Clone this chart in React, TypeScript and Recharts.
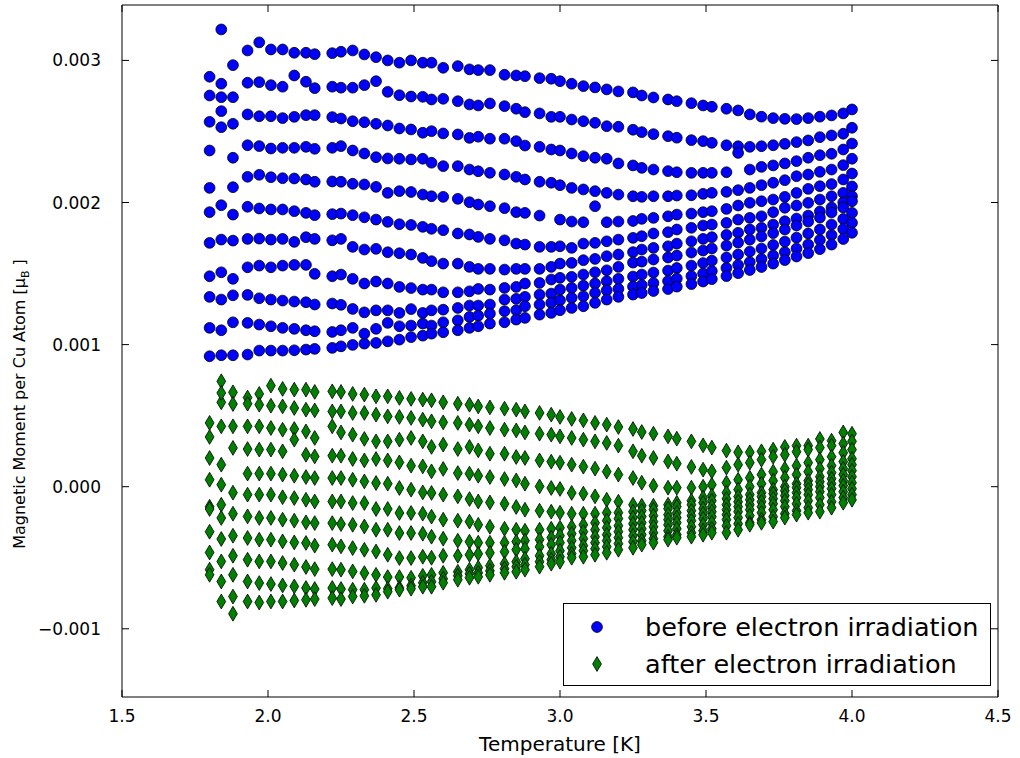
import React from 'react'
import { ScatterChart, Scatter, XAxis, YAxis, ReferenceArea } from 'recharts'

// Sweep temperatures (K), shared by every field row
const temperatures = [
  1.80, 1.84, 1.88, 1.93, 1.97, 2.01, 2.05, 2.09, 2.13, 2.16,
  2.22, 2.25, 2.29, 2.33, 2.37, 2.41, 2.45, 2.49, 2.53, 2.56,
  2.60, 2.65, 2.69, 2.72, 2.76, 2.81, 2.85, 2.88, 2.93, 2.97,
  3.00, 3.04, 3.08, 3.12, 3.16, 3.20, 3.25, 3.28, 3.32, 3.37,
  3.40, 3.45, 3.49, 3.52, 3.57, 3.61, 3.65, 3.69, 3.73, 3.77,
  3.81, 3.85, 3.89, 3.93, 3.97, 4.00,
]

// moments in units of 1e-6 muB per Cu atom, one row per applied field
const beforeRows: (number | null)[][] = [
  [2885, 3218, 2967, 3070, 3127, 3077, 3077, 3054, 3054, 3044, 3051, 3061, 3070, 3042, 3023, 3000, 2984, 3000, 2984, 2984, 2948, 2960, 2937, 2932, 2932, 2899, 2894, 2889, 2875, 2871, 2854, 2836, 2819, 2810, 2796, 2782, 2775, 2753, 2739, 2725, 2713, 2699, 2683, 2674, 2660, 2648, 2620, 2604, 2594, 2589, 2587, 2594, 2604, 2613, 2627, 2655],
  [2753, 2836, 2741, 2843, 2847, 2826, 2815, 2894, 2850, 2805, 2815, 2808, 2808, 2826, 2854, 2779, 2755, 2746, 2744, 2725, 2730, 2713, 2690, 2683, 2697, 2678, 2660, 2636, 2627, 2603, 2603, 2584, 2572, 2561, 2537, 2533, 2512, 2495, 2481, 2467, 2456, 2439, 2432, 2420, 2403, 2396, 2392, 2396, 2403, 2413, 2425, 2437, 2460, 2472, 2484, 2526],
  [2568, 2741, 2554, 2620, 2607, 2607, 2594, 2603, 2615, 2615, 2601, 2591, 2572, 2565, 2554, 2542, 2521, 2514, 2491, 2502, 2486, 2479, 2455, 2463, 2449, 2449, 2432, 2401, 2392, 2373, 2366, 2345, 2326, 2315, 2308, 2275, 2261, 2244, 2232, 2221, 2213, 2209, 2209, 2209, 2213, 2349, 2232, 2251, 2261, 2275, 2291, 2315, 2333, 2343, 2373, 2415],
  [2366, 2643, 2315, 2403, 2397, 2380, 2385, 2385, 2392, 2378, 2385, 2397, 2366, 2345, 2319, 2310, 2308, 2303, 2308, 2280, 2256, 2256, 2232, 2220, 2209, 2197, 2181, 2162, 2146, 2139, 2122, 2103, 2092, 2080, 2068, 2056, 2044, 2040, 2044, 2044, 2049, 2051, 2061, 2068, 2075, 2087, 2103, 2122, 2139, 2157, 2185, 2197, 2216, 2232, 2263, 2308],
  [2103, 2530, 2108, 2181, 2195, 2178, 2171, 2169, 2162, 2146, 2148, 2146, 2132, 2127, 2110, 2068, 2080, 2074, 2056, 2044, 2040, 2026, 2002, 1986, 1974, 1960, 1932, 1927, 1908, null, 1880, 1866, 1861, 1974, 1861, 1866, 1870, 1885, 1892, 1903, 1915, 1922, 1932, 1939, 1955, 1979, 1998, 2009, 2021, 2040, 2068, 2096, 2115, 2130, 2162, 2204],
  [1932, 1981, 1915, 1970, 1958, 1951, 1951, 1939, 1927, 1911, 1918, 1922, 1911, 1896, 1880, 1864, 1847, 1842, 1829, 1815, 1805, 1782, 1775, 1758, 1744, 1734, 1711, 1704, 1688, 1688, 1692, 1681, 1711, 1716, 1727, 1739, 1751, 1763, 1782, 1791, 1810, 1822, 1838, 1845, 1857, 1880, 1892, 1903, 1932, 1963, 1979, 1998, 2021, 2044, 2068, 2113],
  [1716, 1739, 1732, 1744, 1746, 1739, 1744, 1723, 1756, 1744, 1734, 1744, 1688, 1669, 1674, 1650, 1643, 1634, 1610, 1587, 1570, 1570, 1547, 1533, 1533, 1528, 1533, 1533, 1533, 1547, 1570, 1575, 1594, 1603, 1622, 1634, 1651, 1669, 1681, 1692, 1711, 1727, 1744, 1756, 1772, 1787, 1810, 1822, 1845, 1868, 1887, 1908, 1937, 1965, 2000, 2044],
  [1481, 1509, 1463, 1544, 1556, 1544, 1556, 1561, 1561, 1498, 1481, 1493, 1463, 1430, 1444, 1430, 1406, 1398, 1387, 1387, 1368, 1368, 1375, 1392, 1387, 1399, 1406, 1430, 1434, 1458, 1470, 1477, 1493, 1509, 1523, 1547, 1577, 1584, 1599, 1613, 1627, 1648, 1662, 1676, 1697, 1718, 1739, 1761, 1785, 1810, 1838, 1866, 1894, 1930, 1965, 2009],
  [1336, 1317, 1347, 1350, 1326, 1317, 1310, 1303, 1298, 1282, 1289, 1280, 1251, 1227, 1241, 1241, 1223, 1250, 1223, 1241, 1246, 1258, 1275, 1275, 1282, 1317, 1322, 1336, 1352, 1359, 1387, 1399, 1415, 1430, 1446, 1463, 1479, 1493, 1507, 1521, 1539, 1556, 1574, 1591, 1613, 1634, 1655, 1676, 1701, 1725, 1753, 1782, 1810, 1845, 1884, 1927],
  [1118, 1101, 1157, 1153, 1141, 1129, 1118, 1111, 1101, 1094, 1089, 1101, 1118, 1077, 1111, 1153, 1129, 1134, 1148, 1134, 1157, 1171, 1195, 1204, 1218, 1235, 1242, 1270, 1282, 1294, 1312, 1329, 1340, 1364, 1382, 1392, 1408, 1419, 1433, 1447, 1465, 1482, 1500, 1518, 1539, 1560, 1581, 1602, 1627, 1651, 1676, 1704, 1736, 1771, 1813, 1857],
  [918, 925, 925, 930, 958, 958, 958, 960, 965, 970, 977, 988, 998, 1007, 1012, 1023, 1035, 1053, 1063, 1077, 1087, 1101, 1118, 1129, 1148, 1157, 1176, 1188, 1211, 1223, 1242, 1258, 1270, 1294, 1317, 1336, 1352, 1363, 1377, 1391, 1408, 1426, 1444, 1461, 1482, 1503, 1525, 1546, 1570, 1595, 1620, 1644, 1672, 1704, 1743, 1787],
]

const afterRows: (number | null)[][] = [
  [null, 742, 664, 627, 653, 711, 688, 683, 683, 667, 671, 667, 653, 648, 636, 636, 625, 618, 613, 608, 594, 584, 577, 565, 558, 549, 542, 530, 519, 507, 491, 477, 467, 449, 437, 420, 406, 385, 373, 354, 338, 319, 291, 275, 254, 242, 242, 249, 261, 280, 289, 289, 336, 324, 382, 373],
  [449, 594, 582, 584, 577, 570, 565, 554, 542, 537, 530, 530, 519, 519, 507, 495, 491, 484, 472, 460, 453, 449, 437, 425, 413, 401, 396, 382, 373, 366, 354, 343, 331, 319, 308, 289, 249, 218, 202, 178, 162, 139, 120, 108, 134, 155, 169, 190, 211, 225, 246, 261, 275, 289, 303, 319],
  [350, 425, 425, 425, 425, 413, 401, 406, 389, 343, 425, 382, 366, 336, 319, 319, 331, 343, 319, 280, 296, 265, 280, 256, 232, 232, 209, 202, 185, 176, 169, 155, 141, 127, 106, 85, 61, 28, 7, -7, -7, -7, 0, 14, 28, 49, 63, 85, 106, 127, 148, 169, 190, 211, 239, 261],
  [202, 155, 273, 265, 261, 261, 249, 331, 225, 213, 218, 218, 195, 185, 195, 185, 171, 148, 143, 108, 125, 96, 92, 77, 68, 54, 44, 21, 2, -9, -16, -44, -49, -68, -92, -106, -127, -134, -134, -127, -113, -99, -77, -63, -42, -21, 0, 21, 42, 63, 85, 106, 127, 148, 176, 197],
  [49, 14, null, 92, 92, 92, 85, 77, 68, 61, 61, 61, 49, 37, 26, 21, -9, -21, -40, -44, -56, -68, -87, -104, -111, -120, -143, -162, -169, -176, -183, -190, -190, -190, -183, -183, -176, -169, -162, -155, -141, -127, -113, -99, -85, -70, -56, -42, -21, 0, 21, 42, 70, 99, 127, 155],
  [-141, -127, -42, -56, -56, -56, -74, -80, -92, -104, -104, -104, -115, -115, -157, -157, -185, -185, -190, -211, -232, -239, -246, -268, -282, -296, -303, -310, -303, -296, -289, -282, -268, -254, -239, -225, -218, -211, -204, -197, -183, -169, -155, -141, -127, -106, -92, -70, -49, -28, -7, 14, 35, 56, 85, 113],
  [-317, -220, -190, -209, -220, -220, -232, -239, -251, -256, -256, -263, -268, -280, -303, -303, -326, -326, -331, -352, -366, -380, -387, -394, -394, -394, -387, -380, -373, -359, -345, -331, -317, -303, -289, -275, -261, -254, -246, -232, -218, -204, -190, -176, -162, -141, -127, -106, -85, -63, -42, -21, 0, 21, 42, 70],
  [-463, -368, -345, -361, -373, -373, -385, -392, -396, -415, -408, -420, -432, -444, -456, -479, -502, -502, -493, -500, -486, -486, -479, -472, -465, -458, -444, -437, -423, -408, -394, -380, -366, -352, -338, -317, -303, -296, -282, -268, -254, -239, -225, -211, -197, -176, -162, -141, -120, -99, -77, -56, -35, -14, 7, 28],
  [-584, -526, -486, -514, -526, -526, -537, -549, -565, -580, -580, -584, -596, -608, -620, -636, -636, -641, -627, -620, -606, -599, -584, -570, -556, -542, -528, -507, -486, -472, -451, -430, -415, -394, -380, -359, -345, -338, -324, -310, -296, -282, -268, -254, -232, -218, -204, -183, -162, -141, -120, -99, -77, -56, -35, -14],
  [-620, -667, -620, -667, -678, -685, -695, -702, -713, -720, -713, -720, -725, -725, -713, -718, -711, -697, -676, -669, -648, -627, -613, -606, -592, -577, -563, -549, -528, -514, -493, -472, -451, -437, -423, -401, -387, -380, -366, -352, -338, -324, -310, -296, -275, -261, -254, -232, -211, -190, -169, -148, -127, -106, -77, -56],
  [null, -808, -773, -808, -815, -808, -808, -801, -796, -791, -784, -791, -773, -768, -761, -739, -725, -718, -704, -704, -676, -655, -641, -634, -620, -606, -599, -584, -563, -542, -528, -500, -493, -479, -465, -444, -430, -408, -394, -373, -359, -352, -338, -324, -324, -303, -268, -254, -246, -218, -197, -183, -176, -148, -113, -92],
]

// readings that fall off the regular sweep rows: [temperature, moment]
const afterStray: [number, number][] = [
  [1.84, 660],
  [1.80, -157],
  [1.88, -894],
]

const xTicks = [1.5, 2.0, 2.5, 3.0, 3.5, 4.0, 4.5]
const yTicks = [-0.001, 0, 0.001, 0.002, 0.003]
const X_DOMAIN: [number, number] = [1.5, 4.5]
const Y_DOMAIN: [number, number] = [-0.00148, 0.00339]

const UNIT = 1e-6
const BLUE = '#0000ff'
const GREEN = '#008000'
const FONT = '"DejaVu Sans", sans-serif'

// plot frame in page pixels (margins + axis sizes below)
const FRAME = { left: 122, right: 998, top: 5, bottom: 697 }
const TICK_LEN = 7

type Pt = { t: number; m: number }

function toPoints(rows: (number | null)[][], stray: [number, number][] = []): Pt[] {
  const pts: Pt[] = []
  rows.forEach((row) =>
    row.forEach((v, i) => {
      if (v !== null) pts.push({ t: temperatures[i], m: v * UNIT })
    })
  )
  stray.forEach(([t, v]) => pts.push({ t, m: v * UNIT }))
  return pts
}

const beforePoints = toPoints(beforeRows)
const afterPoints = toPoints(afterRows, afterStray)

function Dot(props: any) {
  const { cx, cy } = props
  return <circle cx={cx} cy={cy} r={5.4} fill={BLUE} stroke="#000" strokeWidth={0.8} />
}

function ThinDiamond(props: any) {
  const { cx, cy } = props
  const w = 4.4
  const h = 7.4
  return (
    <path
      d={`M${cx},${cy - h}L${cx + w},${cy}L${cx},${cy + h}L${cx - w},${cy}Z`}
      fill={GREEN}
      stroke="#000"
      strokeWidth={0.8}
    />
  )
}

const fmtY = (v: number) => (v < 0 ? '\u2212' : '') + Math.abs(v).toFixed(3)

// inward ticks on bottom and top edge, label below
function XTick(props: any) {
  const { x, payload } = props
  return (
    <g>
      <line x1={x} x2={x} y1={FRAME.bottom} y2={FRAME.bottom - TICK_LEN} stroke="#000" />
      <line x1={x} x2={x} y1={FRAME.top} y2={FRAME.top + TICK_LEN} stroke="#000" />
      <text x={x} y={FRAME.bottom + 25} textAnchor="middle" fontFamily={FONT} fontSize={17} fill="#000">
        {payload.value.toFixed(1)}
      </text>
    </g>
  )
}

// inward ticks on left and right edge, label to the left
function YTick(props: any) {
  const { y, payload } = props
  return (
    <g>
      <line x1={FRAME.left} x2={FRAME.left + TICK_LEN} y1={y} y2={y} stroke="#000" />
      <line x1={FRAME.right} x2={FRAME.right - TICK_LEN} y1={y} y2={y} stroke="#000" />
      <text x={FRAME.left - 21} y={y + 6} textAnchor="end" fontFamily={FONT} fontSize={17} fill="#000">
        {fmtY(payload.value)}
      </text>
    </g>
  )
}

function LegendBox() {
  const rowStyle: React.CSSProperties = { display: 'flex', alignItems: 'center', height: 37 }
  return (
    <div
      style={{
        position: 'absolute',
        left: 563,
        top: 603,
        width: 428,
        height: 83,
        border: '1px solid #000',
        background: '#fff',
        fontFamily: FONT,
        fontSize: 25.5,
        paddingTop: 4,
        boxSizing: 'border-box',
      }}
    >
      <div style={rowStyle}>
        <svg width={81} height={30}>
          <circle cx={33} cy={15} r={5.4} fill={BLUE} stroke="#000" strokeWidth={0.8} />
        </svg>
        <span>before electron irradiation</span>
      </div>
      <div style={rowStyle}>
        <svg width={81} height={30}>
          <path d="M33,7.6L37.4,15L33,22.4L28.6,15Z" fill={GREEN} stroke="#000" strokeWidth={0.8} />
        </svg>
        <span>after electron irradiation</span>
      </div>
    </div>
  )
}

export default function App() {
  const yMid = 404
  return (
    <div style={{ position: 'absolute', left: 0, top: 0, width: 1020, height: 758, background: '#fff' }}>
      <ScatterChart width={1020} height={758} margin={{ top: 5, right: 22, bottom: 0, left: 0 }}>
        <XAxis
          type="number"
          dataKey="t"
          domain={X_DOMAIN}
          ticks={xTicks}
          height={61}
          axisLine={false}
          tickLine={false}
          tick={<XTick />}
          allowDataOverflow
        />
        <YAxis
          type="number"
          dataKey="m"
          domain={Y_DOMAIN}
          ticks={yTicks}
          width={122}
          axisLine={false}
          tickLine={false}
          tick={<YTick />}
          allowDataOverflow
        />
        <Scatter data={beforePoints} shape={<Dot />} isAnimationActive={false} />
        <Scatter data={afterPoints} shape={<ThinDiamond />} isAnimationActive={false} />
        <ReferenceArea
          x1={X_DOMAIN[0]}
          x2={X_DOMAIN[1]}
          y1={Y_DOMAIN[0]}
          y2={Y_DOMAIN[1]}
          fill="none"
          fillOpacity={0}
          stroke="#000"
          strokeWidth={1}
          ifOverflow="visible"
        />
      </ScatterChart>
      <svg width={1020} height={758} style={{ position: 'absolute', left: 0, top: 0, pointerEvents: 'none' }}>
        <text x={560} y={751} textAnchor="middle" fontFamily={FONT} fontSize={20} fill="#000">
          Temperature [K]
        </text>
        <text
          x={25}
          y={yMid}
          transform={`rotate(-90 25 ${yMid})`}
          textAnchor="middle"
          fontFamily={FONT}
          fontSize={16}
          fill="#000"
        >
          Magnetic Moment per Cu Atom [μ
          <tspan fontSize={11} dy={4}>B</tspan>
          <tspan dy={-4}> ]</tspan>
        </text>
      </svg>
      <LegendBox />
    </div>
  )
}
